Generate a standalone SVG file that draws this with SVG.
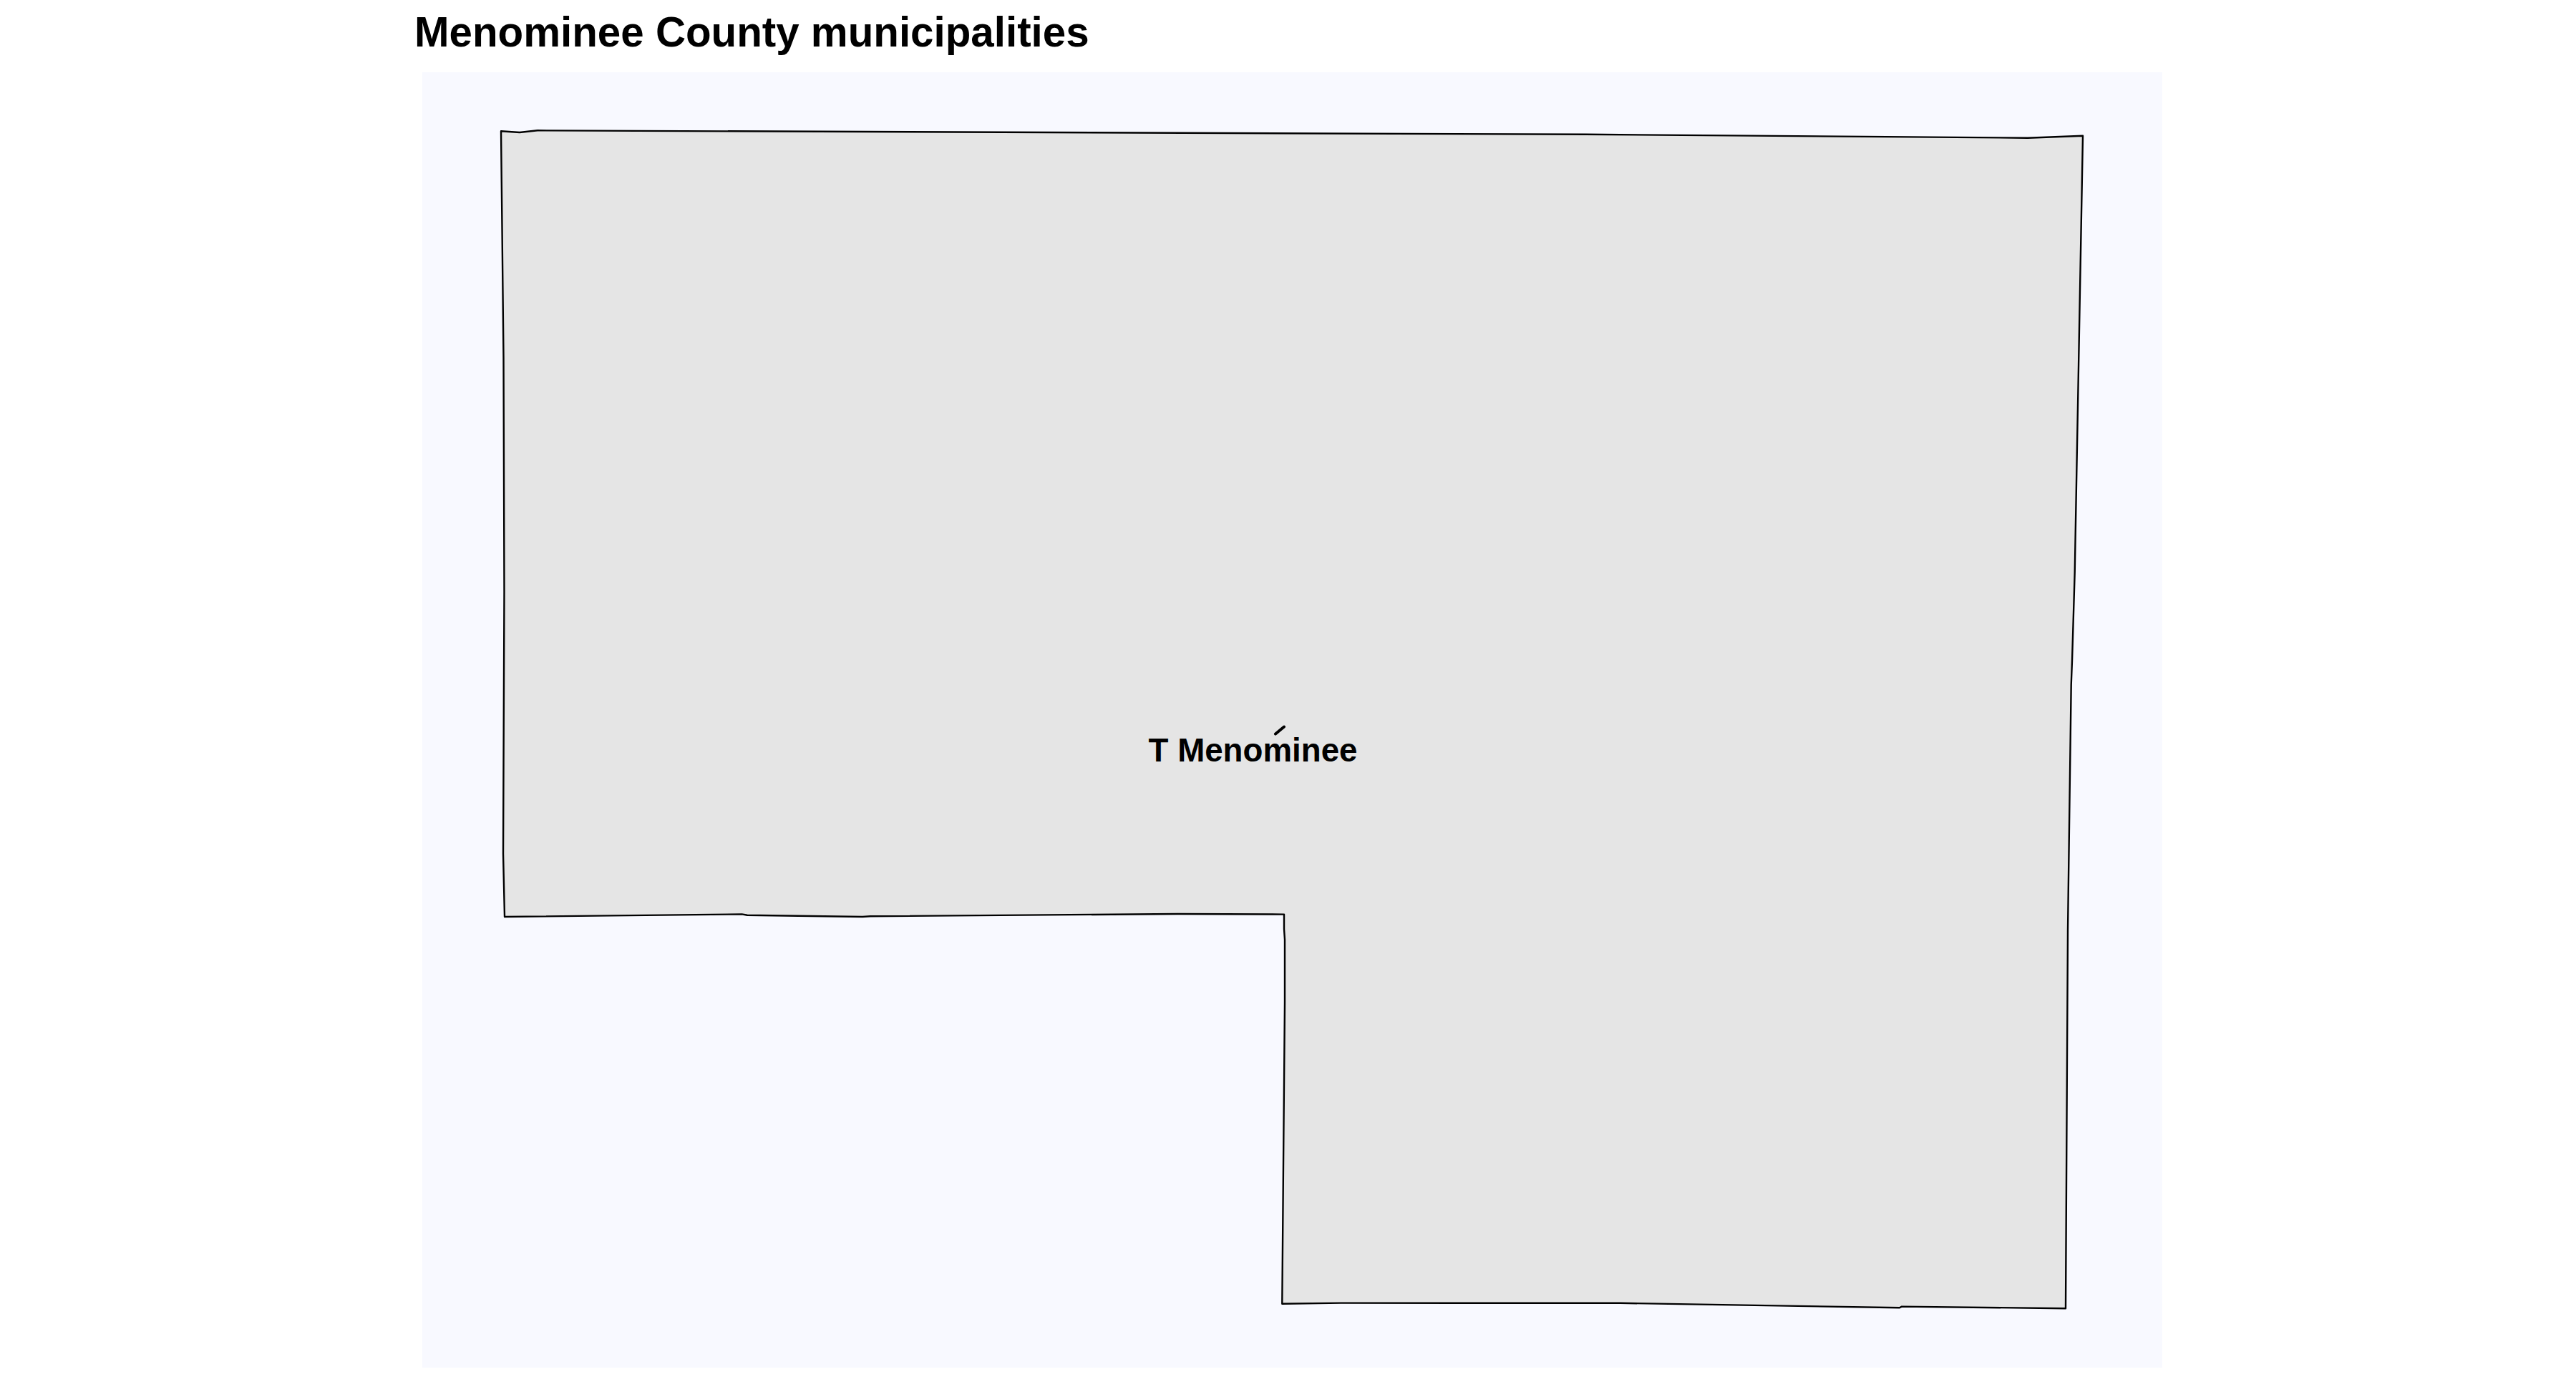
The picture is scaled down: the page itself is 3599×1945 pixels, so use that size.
<svg xmlns="http://www.w3.org/2000/svg" width="3599" height="1945" viewBox="0 0 3599 1945">
<style>
text{font-family:"Liberation Sans",Arial,sans-serif;font-weight:700;fill:#000}
.title{font-size:58.3px}
.label{font-size:45.7px;text-anchor:middle}
.muni{fill:#e5e5e5;stroke:#000;stroke-width:2.4;stroke-linejoin:round}
.tick{fill:none;stroke:#000;stroke-width:4;stroke-linecap:round}
</style>
<rect width="3599" height="1945" fill="#fff"/>
<rect x="590" y="101" width="2431" height="1810" fill="#f8f9ff"/>
<text class="title" x="579" y="64.5">Menominee County municipalities</text>
<g id="t-menominee">
<path class="muni" d="M700 183.3L726 185L751 182.3L1400 184.8L2215 187.8L2833 192.7L2910 189.7L2898.7 800L2895 923L2893.7 957L2889 1300L2886 1828.2L2657 1825.6L2654 1827.2L2264 1820.8L1874 1820.6L1791.3 1821.8L1795 1400L1795 1313L1794 1298L1794 1277.6L1645 1277L1216 1280.3L1205 1281L1044 1278.7L1036.5 1277.4L705 1281L703 1193L704.5 826L703.5 500Z"/>
<path class="tick" d="M1782 1025.5L1794 1015.5"/>
<text class="label" x="1750.5" y="1064">T Menominee</text>
</g>
</svg>
